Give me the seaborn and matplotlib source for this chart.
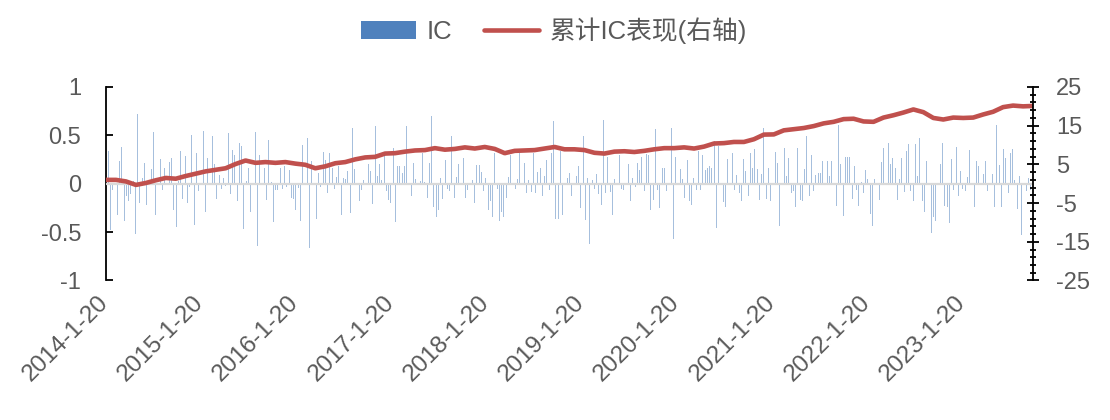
import numpy as np
import pandas as pd
import matplotlib
matplotlib.use("Agg")
import matplotlib.pyplot as plt
import matplotlib.dates as mdates
import matplotlib.transforms as mtransforms
from matplotlib.lines import Line2D
from matplotlib.patches import Patch
from matplotlib.ticker import FixedLocator
import seaborn as sns

# ---------------- data ----------------
start_date = "2014-01-20"
end_date = "2023-10-13"

ic = [
    # 2014 - early 2016
    0.72, 0.34, -0.48, -0.06, -0.06, -0.32, 0.23, 0.38, -0.38, -0.13, -0.18, -0.11, 0.03, -0.52, 0.72,
    -0.2, 0.06, 0.21, -0.22, -0.02, 0.15, 0.53, -0.32, 0.02, 0.26, -0.06, 0.16, 0.2, 0.22, 0.27, -0.27,
    -0.45, 0.03, 0.34, -0.16, 0.29, -0.2, -0.03, 0.5, -0.43, 0.32, -0.07, 0.02, 0.55, -0.29, 0.27, -0.13,
    0.49, 0.2, -0.16, 0.09, -0.05, 0.06, -0.02, 0.52, -0.11, 0.35, 0.3, -0.18, 0.42, 0.39, -0.47, 0.03,
    0.16, -0.29, -0.24,
    # 2015 - 2017
    0.53, -0.64, 0.3, -0.26, 0.16, -0.17, 0.45, 0.02, -0.4, -0.06, -0.06, 0.16, -0.05, 0.18, -0.03, 0.14,
    -0.15, -0.16, -0.27, -0.04, -0.39, 0.4, -0.28, 0.47, -0.66, 0.23, -0.23, -0.36, 0.11, -0.03, 0.33,
    0.25, -0.1, 0.32, 0.16, -0.05, 0.07, 0.18, -0.32, 0.06, 0.05, 0.13, -0.3, 0.58, 0.15, 0.27, -0.18,
    -0.06, 0.04, 0.19, 0.2, 0.13, -0.21, 0.6, 0.08, 0.2, 0.04, 0.32, -0.08, -0.17, -0.2, 0.37, -0.4, 0.18,
    0.18, 0.11, 0.18,
    # 2017 - 2019
    0.6, -0.49, -0.13, 0.21, 0.05, -0.17, 0.03, 0.32, 0.02, -0.15, 0.21, 0.7, -0.24, -0.34, -0.27, 0.06,
    -0.16, 0.25, -0.05, -0.08, 0.49, -0.15, 0.07, 0.2, 0.2, 0.27, -0.15, -0.06, -0.17, 0.04, -0.2, 0.19,
    0.19, 0.12, -0.07, 0.06, -0.27, -0.18, -0.34, 0.32, -0.05, -0.38, -0.29, -0.34, -0.15, 0.07, 0.3,
    0.53, -0.05, 0.05, 0.32, -0.41, 0.21, -0.1, 0.04, -0.09, 0.32, -0.1, 0.12, 0.16, -0.13, 0.08, 0.25,
    -0.06, 0.32, 0.65, -0.36, -0.36, 0.34, -0.32,
    # 2019 - 2020
    -0.3, 0.06, 0.11, -0.13, -0.39, 0.08, 0.18, -0.25, 0.49, -0.37, 0.06, -0.62, 0.04, -0.05, 0.1, -0.11,
    -0.22, 0.66, -0.1, 0.28, -0.09, -0.32, 0.05, 0.06, 0.3, -0.05, -0.06, 0.15, 0.2, -0.18, 0.06, -0.03,
    0.21, 0.14, 0.28, -0.08, 0.31, 0.3, -0.27, -0.17, 0.57, -0.06, -0.25, 0.16, 0.16, -0.08, 0.53, 0.58,
    -0.57, 0.28, -0.49, 0.15, 0.05, -0.15, 0.25, -0.18, -0.22, 0.06, -0.06, 0.34, -0.06, 0.3, 0.14, 0.16,
    0.18, 0.16, 0.44, -0.46,
    # 2020 - 2022
    0.39, 0.15, -0.19, -0.24, 0.26, 0.11, 0.32, -0.06, 0.09, -0.1, -0.18, 0.26, 0.13, -0.13, 0.32, 0.16,
    0.36, 0.15, -0.17, 0.1, 0.58, -0.16, 0.16, -0.18, 0.09, 0.33, 0.21, -0.44, 0.49, 0.37, 0.08, 0.27,
    -0.1, -0.08, -0.24, 0.37, -0.17, -0.18, 0.15, 0.49, -0.13, 0.3, -0.08, 0.09, 0.11, 0.11, 0.23, 0.49,
    0.24, 0.08, 0.24, 0.13, -0.23, 0.61, 0.2, -0.33, 0.28, 0.28, 0.28, -0.16, 0.18, -0.06, -0.23, 0.02,
    -0.1, 0.14, 0.05, -0.31, -0.44, 0.05, 0.28, -0.17,
    # 2022 - 2023
    0.22, 0.37, 0.37, 0.42, 0.2, 0.27, 0.16, -0.17, 0.05, 0.27, -0.09, 0.34, 0.41, -0.08, -0.18, 0.41,
    0.08, 0.47, -0.18, -0.29, 0.24, 0.19, -0.51, -0.34, -0.39, -0.1, 0.2, 0.42, -0.23, -0.24, -0.41, 0.26,
    -0.06, 0.38, -0.13, 0.13, -0.05, -0.07, 0.07, 0.35, -0.06, -0.24, 0.24, 0.18, 0.2, 0.1, 0.23, -0.08,
    0.47, 0.1, -0.24, 0.61, 0.19, -0.24, 0.36, 0.27, -0.1, 0.32, 0.36, 0.04, -0.26, 0.08, -0.53, 0.38,
    -0.07, 0.06, -0.06, 0.16,
]

cum_ic = [
    1.0, 1.0, 0.6, -0.3, 0.2, 0.9, 1.5, 1.3, 2.0, 2.6, 3.2, 3.6, 4.0, 5.1, 6.0, 5.4, 5.6, 5.4, 5.6, 5.2,
    4.9, 4.0, 4.5, 5.3, 5.6, 6.3, 6.8, 6.95, 7.8, 7.9, 8.3, 8.6, 8.7, 9.2, 8.8, 9.0, 9.4, 9.1, 9.5, 9.0,
    7.9, 8.5, 8.6, 8.7, 9.1, 9.5, 8.9, 8.9, 8.7, 8.0, 7.8, 8.3, 8.4, 8.2, 8.5, 8.9, 9.2, 9.2, 9.4, 9.1,
    9.6, 10.4, 10.5, 10.8, 10.8, 11.5, 12.7, 12.75, 13.8, 14.1, 14.4, 14.9, 15.6, 16.0, 16.7, 16.8, 16.1,
    16.0, 17.1, 17.7, 18.4, 19.2, 18.5, 17.0, 16.6, 17.1, 17.0, 17.1, 17.9, 18.6, 19.8, 20.2, 20.0, 20.1,
]

year_ticks = list(range(2014, 2024))
left_ticks = [-1, -0.5, 0, 0.5, 1]
left_labels = ["-1", "-0.5", "0", "0.5", "1"]
right_ticks = [-25, -15, -5, 5, 15, 25]
right_labels = ["-25", "-15", "-5", "5", "15", "25"]

BAR_LABEL = "IC"
LINE_LABEL = "累计IC表现(右轴)"

# ---------------- figure ----------------
sns.set_theme(style="white")
plt.rcParams["font.family"] = ["Liberation Sans", "Noto Sans CJK SC"]
TXT = "#595959"

bar_dates = pd.date_range(start_date, end_date, periods=len(ic))
line_dates = pd.date_range(start_date, end_date, periods=len(cum_ic))
df_bar = pd.DataFrame({"x": mdates.date2num(bar_dates), "IC": ic})
df_line = pd.DataFrame({"x": mdates.date2num(line_dates), "cum": cum_ic})

W, H = 1110, 420
fig = plt.figure(figsize=(W / 100, H / 100), dpi=100)
ax = fig.add_axes([106 / W, 1 - 280.5 / H, (1033 - 106) / W, (280.5 - 87) / H])

sns.barplot(data=df_bar, x="x", y="IC", native_scale=True, width=0.4,
            color="#4F81BD", saturation=1, alpha=0.5, linewidth=0,
            errorbar=None, ax=ax)
ax.axhline(0, color="#D9D9D9", lw=1.6, zorder=5)

ax2 = ax.twinx()
sns.lineplot(data=df_line, x="x", y="cum", color="#C0504D", linewidth=3.3,
             ax=ax2, legend=False)

ax.set_xlim(df_bar["x"].min(), df_bar["x"].max())
ax.set_ylim(-1, 1)
ax2.set_ylim(-25, 25)

xt = [mdates.date2num(pd.Timestamp(f"{y}-01-20")) for y in year_ticks]
ax.set_xticks(xt)
ax.set_xticklabels([f"{y}-1-20" for y in year_ticks], rotation=45, ha="right",
                   rotation_mode="anchor", fontsize=17.5, color=TXT)
ax.tick_params(axis="x", length=0, pad=8)
shift = mtransforms.ScaledTranslation(-9 / 100, 0, fig.dpi_scale_trans)
for lab in ax.get_xticklabels():
    lab.set_transform(lab.get_transform() + shift)

ax.set_yticks(left_ticks)
ax.set_yticklabels(left_labels)
ax.tick_params(axis="y", direction="in", length=5, width=1.3, color="black",
               pad=18, labelsize=17, labelcolor=TXT)

ax2.set_yticks(right_ticks)
ax2.set_yticklabels(right_labels)
ax2.yaxis.set_minor_locator(FixedLocator(list(range(-25, 26, 2))))
ax2.tick_params(axis="y", which="major", direction="inout", length=9, width=1.3,
                color="black", pad=12, labelsize=17, labelcolor=TXT)
ax2.tick_params(axis="y", which="minor", direction="inout", length=4.5, width=1.3,
                color="black")

for a in (ax, ax2):
    a.set_xlabel("")
    a.set_ylabel("")
    for s in ("top", "bottom"):
        a.spines[s].set_visible(False)
ax.spines["right"].set_visible(False)
ax2.spines["left"].set_visible(False)
ax.spines["left"].set_color("black")
ax.spines["left"].set_linewidth(1.3)
ax2.spines["right"].set_color("black")
ax2.spines["right"].set_linewidth(1.3)
ax.grid(False)
ax2.grid(False)

handles = [Patch(facecolor="#4F81BD", edgecolor="none", label=BAR_LABEL),
           Line2D([0], [0], color="#C0504D", lw=3.3, label=LINE_LABEL)]
leg = fig.legend(handles=handles, loc="center", bbox_to_anchor=(554 / W, 1 - 31 / H),
                 ncol=2, frameon=False, fontsize=18.5, handlelength=2.15,
                 handletextpad=0.4, columnspacing=1.25)
for t in leg.get_texts():
    t.set_color(TXT)

fig.savefig("out.png", dpi=100)
